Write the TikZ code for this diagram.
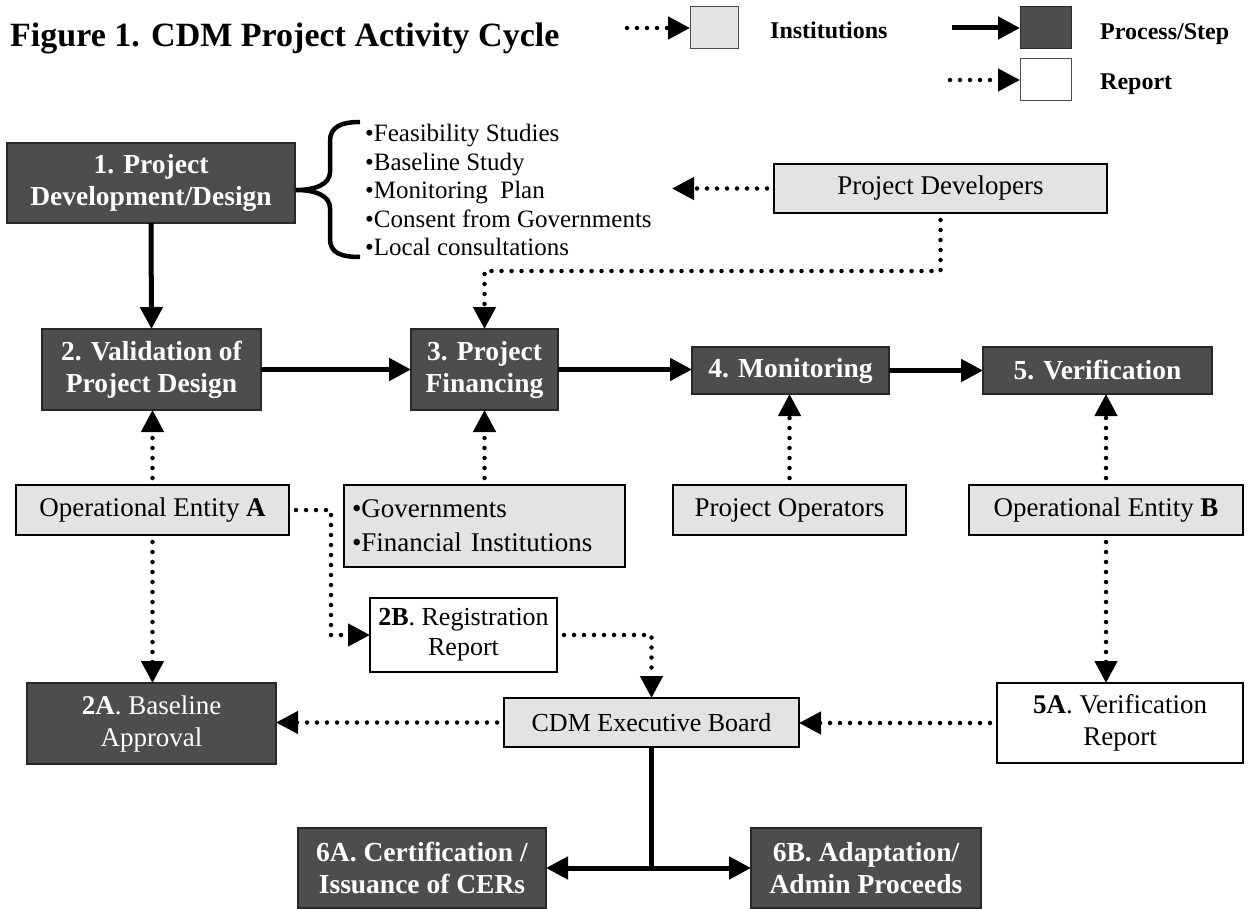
\documentclass[tikz,border=0pt]{standalone}
\usepackage{fontspec}
\setmainfont{Liberation Serif}
\usetikzlibrary{arrows.meta}
\definecolor{procfill}{RGB}{77,77,77}
\definecolor{procedge}{RGB}{40,40,40}
\definecolor{instfill}{RGB}{227,227,227}
\tikzset{
  proc/.style={draw=procedge, line width=1.2pt, fill=procfill, text=white,
    font=\bfseries\fontsize{27.5}{32}\selectfont, align=center, inner sep=0pt, outer sep=0pt},
  inst/.style={draw=black, line width=2.5pt, fill=instfill,
    font=\fontsize{27}{34}\selectfont, align=center, inner sep=0pt, outer sep=0pt},
  rep/.style={draw=black, line width=1.2pt, fill=white,
    font=\fontsize{26}{30}\selectfont, align=center, inner sep=0pt, outer sep=0pt},
  keybox/.style={line width=1pt, inner sep=0pt, outer sep=0pt, minimum width=51pt, minimum height=42pt},
  keytext/.style={anchor=base west, font=\bfseries\fontsize{24}{28}\selectfont, inner sep=0pt},
  flow/.style={line width=5pt, -{Triangle[length=22pt,width=22pt]}},
  dots/.style={line width=4.5pt, line cap=round, dash pattern=on 0pt off 10pt},
  dotflow/.style={dots, -{Triangle[length=22pt,width=22pt]}, shorten <=7pt},
}
\begin{document}
\begin{tikzpicture}[x=1pt, y=-1pt]
\useasboundingbox (0,0) rectangle (1249,909);

% title
\node[anchor=base west, inner sep=0pt, font=\bfseries\fontsize{34}{40}\selectfont] (title) at (10,47)
  {Figure 1. CDM Project Activity Cycle};

% key
\node[keybox, minimum width=48pt, draw=black!70, fill=instfill] (kI) at (714,28) {};
\node[keytext] (kIt) at (770,39) {Institutions};
\node[keybox, draw=procedge, fill=procfill] (kP) at (1045.5,28) {};
\node[keytext] (kPt) at (1100,40) {Process/Step};
\node[keybox, draw=black!70, fill=white] (kR) at (1045.5,80) {};
\node[keytext] (kRt) at (1100,90) {Report};
\coordinate (kIa) at (627,28);
\coordinate (kPa) at (952,28);
\coordinate (kRa) at (950,80);
\draw[dots, -{Triangle[length=22pt,width=22pt]}] (kIa) -- (kI.west);
\draw[flow] (kPa) -- (kP.west);
\draw[dots, -{Triangle[length=22pt,width=22pt]}] (kRa) -- (kR.west);

% process steps
\node[proc, minimum width=288pt, minimum height=80pt] (n1) at (151,183) {1. Project\\Development/Design};
\node[proc, minimum width=219pt, minimum height=81pt] (n2) at (151.5,369.5) {2. Validation of\\Project Design};
\node[proc, minimum width=147pt, minimum height=81pt] (n3) at (484.5,369.5) {3. Project\\Financing};
\node[proc, minimum width=197pt, minimum height=47pt] (n4) at (790.5,370.5) {4. Monitoring};
\node[proc, minimum width=229pt, minimum height=47pt] (n5) at (1097.5,370.5) {5. Verification};
\node[proc, font=\fontsize{27}{32}\selectfont, minimum width=249pt, minimum height=81pt] (n2a) at (151.5,723.5)
  {\textbf{2A}. Baseline\\Approval};
\node[proc, minimum width=248pt, minimum height=80pt] (n6a) at (422,868) {6A. Certification /\\Issuance of CERs};
\node[proc, minimum width=230pt, minimum height=80pt] (n6b) at (866,868) {6B. Adaptation/\\Admin Proceeds};

% institutions
\node[inst, minimum width=333pt, minimum height=49pt] (pd) at (940.5,188.5) {Project Developers};
\node[inst, minimum width=273pt, minimum height=50pt] (opA) at (152.5,510) {Operational Entity \textbf{A}};
\node[inst, minimum width=281pt, minimum height=82pt, align=left, text width=265pt] (gov) at (484.5,526)
  {•Governments\\•Financial Institutions};
\node[inst, minimum width=233pt, minimum height=50pt] (po) at (789.5,510) {Project Operators};
\node[inst, minimum width=274pt, minimum height=50pt] (opB) at (1106,510) {Operational Entity \textbf{B}};
\node[inst, font=\fontsize{26}{30}\selectfont, minimum width=295pt, minimum height=49pt] (eb) at (651.5,722.5) {CDM Executive Board};

% reports
\node[rep, minimum width=187pt, minimum height=74pt] (r2b) at (463.5,635) {\textbf{2B}. Registration\\Report};
\node[rep, font=\fontsize{27}{32}\selectfont, minimum width=246pt, minimum height=80pt] (r5a) at (1120,723) {\textbf{5A}. Verification\\Report};

% design contents with brace
\draw[line width=4.5pt] (360,122) .. controls (341,122) and (330,127) .. (330,141)
  -- (330,172) .. controls (330,184) and (316,190) .. (296,190)
  .. controls (316,190) and (330,196) .. (330,208)
  -- (330,239) .. controls (330,253) and (341,257) .. (360,257);
\node[anchor=west, align=left, inner sep=0pt, font=\fontsize{25}{28.5}\selectfont] (list) at (365,190)
  {•Feasibility Studies\\•Baseline Study\\•Monitoring\ \ Plan\\•Consent from Governments\\•Local consultations};
\coordinate (listtip) at (672,188.5);

% main flow
\draw[flow] (n1.south) -- (n2.north);
\draw[flow] (n2.east) -- (n3.west);
\draw[flow] (n3.east) -- (n3.east -| n4.west);
\draw[flow] (n4.east) -- (n5.west);

% institutional inputs
\draw[dotflow] (pd.west) -- (listtip);
\coordinate (pdturn) at (940.5,271);
\draw[dotflow] (pd.south) -- (pdturn) -| (n3.north);
\draw[dotflow] (opA.north) -- (opA.north |- n2.south);
\draw[dotflow] (gov.north) -- (n3.south);
\draw[dotflow] (po.north) -- (po.north |- n4.south);
\draw[dotflow] (opB.north) -- (opB.north |- n5.south);
\draw[dotflow] (opA.south) -- (opA.south |- n2a.north);
\draw[dotflow] (opB.south) -- (opB.south |- r5a.north);
\coordinate (opAturn) at (331,510);
\draw[dotflow] (opA.east) -- (opAturn) |- (r2b.west);
\draw[dotflow] (r2b.east) -| (eb.north);
\draw[dotflow] (eb.west) -- (eb.west -| n2a.east);
\draw[dotflow] (r5a.west) -- (r5a.west -| eb.east);

% issuance
\coordinate (split) at (eb.south |- n6a.east);
\draw[line width=5pt] (eb.south) -- (split);
\draw[flow] (split) -- (n6a.east);
\draw[flow] (split) -- (n6b.west);
\end{tikzpicture}
\end{document}
